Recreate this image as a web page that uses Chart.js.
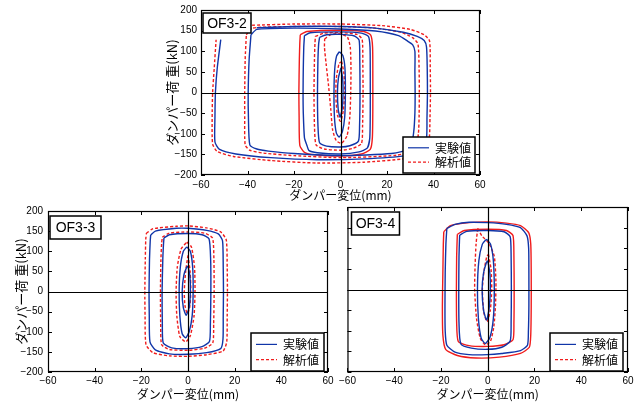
<!DOCTYPE html>
<html>
<head>
<meta charset="utf-8">
<script src="https://cdn.jsdelivr.net/npm/chart.js@4"></script>
<style>
  body { margin: 0; background: #fff; width: 638px; height: 403px; position: relative; overflow: hidden; }
  canvas { position: absolute; }
</style>
</head>
<body>
<canvas id="of32" width="330" height="205" style="left:160px;top:0px"></canvas>
<canvas id="of33" width="340" height="203" style="left:0px;top:200px"></canvas>
<canvas id="of34" width="302" height="203" style="left:336px;top:200px"></canvas>
<script>
// eixos
const xTicks = [-60, -40, -20, 0, 20, 40, 60];
const yTicks = [-200, -150, -100, -50, 0, 50, 100, 150, 200];
const legendLabels = ['実験値', '解析値'];

// OF3-2 experimento (azul)
const of32ExpA = [[-36,157],[-20,160],[0,160],[15,156],[27,146],[33,136],[36,126],[37,110],[37.3,60],[37.4,0],[37.2,-60],[37,-110],[35,-140],[28,-153],[10,-161],[-10,-163],[-30,-158],[-45,-149],[-52,-138],[-54,-120],[-54,-60],[-53.8,0],[-53,60],[-51.5,128]];
const of32ExpB = [[-38.5,140],[-36,153],[-20,156],[0,154],[15,149],[25,138],[29,124],[31,116],[32,100],[32,50],[32.1,0],[32,-50],[31.5,-95],[30,-135],[22,-148],[0,-153],[-20,-148],[-31,-142],[-36,-137],[-39,-127],[-39.6,-60],[-39.7,0],[-39.3,80],[-38.5,140]];
const of32ExpC = [[-15.5,138],[-13,145],[0,147],[9,144],[12,136],[12.7,110],[12.8,40],[12.8,-40],[12.6,-110],[11.5,-135],[8,-144],[0,-149],[-10,-146],[-13.5,-141],[-14.5,-127],[-15.5,-110],[-16,-50],[-16.1,0],[-16,60],[-15.8,110],[-15.5,138]];
const of32ExpD = [[-9,134],[-6,140],[0,141],[6,137],[8,127],[8.3,80],[8.4,0],[8.2,-80],[7.7,-118],[4,-129],[0,-132],[-6,-130],[-9,-122],[-9.7,-80],[-9.9,0],[-9.7,80],[-9.4,118],[-9,134]];
const of32ExpE = [[-0.5,99],[1,90],[1.9,60],[2.1,0],[1.8,-60],[0.8,-95],[-0.6,-108],[-1.8,-98],[-2.6,-60],[-2.8,0],[-2.5,55],[-1.7,88],[-0.5,99]];
const of32ExpF = [[0.2,60],[0.9,35],[1.1,0],[0.7,-40],[-0.2,-60],[-1,-40],[-1.3,0],[-0.9,35],[0.2,60]];
// OF3-2 analise (vermelho)
const of32AnaA = [[-38,163],[-20,166],[0,166],[18,162],[30,153],[36,140],[38.3,125],[38.6,60],[38.7,0],[38.5,-60],[38.2,-110],[36.5,-145],[28,-160],[10,-169],[-10,-171],[-30,-165],[-46,-155],[-53,-143],[-55,-125],[-55.2,-60],[-55,0],[-54.3,60],[-53.5,128]];
const of32AnaB = [[-40.5,140],[-38,156],[-20,160],[0,160],[15,156],[26,146],[31,133],[33.3,118],[33.8,60],[33.9,0],[33.8,-60],[33.5,-100],[32,-138],[24,-152],[0,-158],[-20,-153],[-33,-147],[-39,-140],[-41,-127],[-41.2,-60],[-41.2,0],[-41,80],[-40.5,140]];
const of32AnaC = [[-17.3,140],[-14.5,148],[0,151],[10,148],[13,139],[13.8,110],[13.9,40],[13.9,-40],[13.7,-110],[12.8,-138],[9,-149],[0,-154],[-11,-151],[-15.5,-145],[-17.5,-128],[-17.8,-60],[-17.9,0],[-17.7,80],[-17.5,120],[-17.3,140]];
const of32AnaD = [[-10.8,136],[-7,144],[0,145],[7,141],[9.3,129],[9.6,70],[9.7,0],[9.5,-80],[9,-124],[5,-136],[0,-140],[-7,-137],[-10.5,-127],[-11.2,-80],[-11.4,0],[-11.2,80],[-11,118],[-10.8,136]];
const of32AnaE = [[-6.8,130],[-4,141],[0,142],[3,134],[4.2,110],[4.5,60],[4.4,0],[4,-60],[2.8,-105],[0.5,-123],[-1.8,-117],[-3.4,-90],[-4.2,-40],[-5.2,20],[-6.2,70],[-6.9,110],[-6.8,130]];
const of32AnaF = [[0.5,75],[1.5,45],[1.8,0],[1.2,-45],[0,-70],[-1.3,-55],[-2,-10],[-1.8,35],[-0.6,70],[0.5,75]];

// OF3-3
const of33ExpA = [[-16,140],[-14,150],[-5,157],[0,157],[8,152],[13,143],[14.8,126],[15.1,60],[15.2,0],[15.1,-60],[15,-118],[14,-142],[8,-152],[0,-156],[-8,-155],[-14,-145],[-16.3,-125],[-16.6,-60],[-16.7,0],[-16.5,80],[-16.2,125],[-16,140]];
const of33ExpB = [[-10.3,133],[-8,141],[0,144],[6,141],[9,131],[9.7,80],[9.8,0],[9.6,-80],[9.2,-124],[6,-137],[0,-142],[-7,-140],[-10.6,-128],[-11,-80],[-11.1,0],[-10.8,80],[-10.5,118],[-10.3,133]];
const of33ExpC = [[-0.5,111],[1,100],[2,60],[2.2,0],[1.8,-60],[0.5,-100],[-1,-115],[-2.5,-105],[-3.5,-60],[-3.8,0],[-3.3,60],[-2,100],[-0.5,111]];
const of33ExpD = [[0,63],[0.8,40],[1,0],[0.5,-40],[-0.8,-59],[-2,-40],[-2.5,0],[-1.8,40],[-0.6,60],[0,63]];
const of33AnaA = [[-17.8,145],[-15,156],[-5,162],[0,163],[8,158],[14,148],[16.4,128],[16.8,60],[16.9,0],[16.8,-60],[16.6,-125],[15,-148],[8,-157],[0,-161],[-8,-160],[-15,-152],[-18,-132],[-18.4,-60],[-18.5,0],[-18.3,80],[-18.1,130],[-17.8,145]];
const of33AnaB = [[-11,135],[-8,145],[0,148],[7,145],[10.5,133],[11.1,80],[11.2,0],[11,-80],[10.6,-128],[7,-141],[0,-146],[-8,-144],[-11.3,-132],[-11.7,-80],[-11.8,0],[-11.6,80],[-11.3,120],[-11,135]];
const of33AnaC = [[-0.5,123],[1.5,110],[2.8,60],[3,0],[2.6,-60],[1,-110],[-1,-125],[-3.5,-112],[-4.8,-60],[-5.1,0],[-4.6,60],[-3,105],[-0.5,123]];
const of33AnaD = [[0,90],[0.9,50],[1.2,0],[0.7,-40],[-0.3,-55],[-1.3,-35],[-1.6,0],[-1,50],[0,90]];

// OF3-4
const of34ExpA = [[-17.5,148],[-14,158],[-8,163],[0,162],[8,158],[14,150],[16.8,130],[17.5,100],[17.6,40],[17.6,-40],[17.4,-100],[17,-135],[14,-148],[6,-155],[0,-158],[-8,-158],[-14,-152],[-17.5,-135],[-18.2,-100],[-18.3,-40],[-18.2,40],[-17.9,110],[-17.5,148]];
const of34ExpB = [[-12,132],[-9,141],[0,143],[7,140],[9.6,128],[10,80],[10.1,0],[10,-80],[9.6,-125],[6,-140],[0,-145],[-7,-142],[-11.5,-132],[-12.3,-80],[-12.4,0],[-12.3,80],[-12.1,118],[-12,132]];
const of34ExpC = [[-0.5,122],[1.2,110],[2.4,70],[2.8,0],[2.4,-70],[1,-115],[-1,-131],[-2.8,-118],[-4,-70],[-4.4,0],[-3.8,70],[-2.3,110],[-0.5,122]];
const of34ExpD = [[0,70],[0.9,40],[1.1,0],[0.6,-45],[-0.5,-74],[-1.8,-50],[-2.4,0],[-1.8,40],[-0.6,65],[0,70]];
const of34AnaA = [[-18.8,140],[-16,155],[-8,162],[0,164],[8,161],[14,155],[17.5,138],[18.4,110],[18.6,40],[18.6,-40],[18.4,-110],[17.8,-140],[14,-155],[5,-164],[-5,-166],[-13,-160],[-18,-145],[-19.2,-110],[-19.4,-40],[-19.2,40],[-19,110],[-18.8,140]];
const of34AnaB = [[-13,134],[-10,143],[0,146],[8,143],[10.8,131],[11.2,80],[11.3,0],[11.2,-80],[10.8,-122],[7,-134],[0,-138],[-8,-136],[-12.6,-126],[-13.3,-80],[-13.4,0],[-13.3,80],[-13.1,118],[-13,134]];
const of34AnaC = [[-4.3,148],[-2.5,130],[0.5,112],[2.8,80],[3.5,20],[3.3,-40],[2.6,-90],[1.2,-125],[-1,-134],[-3.2,-118],[-4.8,-70],[-5.6,0],[-5.4,60],[-5,110],[-4.3,148]];
const of34AnaD = [[0.3,85],[1.4,50],[1.7,0],[1.1,-50],[-0.3,-78],[-1.7,-55],[-2.3,0],[-1.6,45],[-0.4,80],[0.3,85]];

const BLUE = '#1035a8';
const RED = '#f01c1c';
const DASH = [3, 2];
const tickFont = { family: '"Liberation Sans Narrow", "Liberation Sans", Arial, sans-serif', size: 10 };
const jpFont = { family: '"Noto Sans CJK JP", sans-serif', size: 12 };
const jpFontY = { family: '"Noto Sans CJK JP", sans-serif', size: 13 };

function loop(points, color, dash) {
    return {
        data: points.map(p => ({ x: p[0], y: p[1] })),
        showLine: true,
        borderColor: color,
        borderWidth: 1.4,
        borderDash: dash,
        pointRadius: 0,
        tension: 0.2,
        fill: false
    };
}

function fmt(v) {
    return v < 0 ? '\u2212' + (-v) : String(v);
}

// moldura, ticks para dentro, eixos zero, caixa do nome e legenda
const panelDecor = {
    id: 'panelDecor',
    afterDatasetsDraw(chart, args, o) {
        const { ctx, chartArea: a, scales: { x, y } } = chart;
        ctx.save();
        ctx.strokeStyle = '#000';
        ctx.lineWidth = 1.2;
        const x0 = Math.round(x.getPixelForValue(0)) + 0.5;
        const y0 = Math.round(y.getPixelForValue(0)) + 0.5;
        ctx.beginPath();
        ctx.moveTo(x0, a.top); ctx.lineTo(x0, a.bottom);
        ctx.moveTo(a.left, y0); ctx.lineTo(a.right, y0);
        ctx.stroke();

        ctx.lineWidth = 1;
        ctx.beginPath();
        xTicks.forEach(v => {
            const px = Math.round(x.getPixelForValue(v)) + 0.5;
            ctx.moveTo(px, a.bottom); ctx.lineTo(px, a.bottom - 4);
            ctx.moveTo(px, a.top); ctx.lineTo(px, a.top + 4);
        });
        yTicks.forEach(v => {
            const py = Math.round(y.getPixelForValue(v)) + 0.5;
            ctx.moveTo(a.left, py); ctx.lineTo(a.left + 4, py);
            ctx.moveTo(a.right, py); ctx.lineTo(a.right - 4, py);
        });
        ctx.stroke();
        ctx.lineWidth = 1.2;
        ctx.strokeRect(a.left + 0.5, a.top + 0.5, a.width - 1, a.height - 1);

        // nome do ensaio
        const nb = o.nameBox;
        const nx = a.left + nb[0], ny = a.top + nb[1];
        ctx.fillStyle = '#fff';
        ctx.fillRect(nx, ny, nb[2], nb[3]);
        ctx.lineWidth = 1.5;
        ctx.strokeRect(nx, ny, nb[2], nb[3]);
        ctx.fillStyle = '#000';
        ctx.font = '14px "Liberation Sans", Arial, sans-serif';
        ctx.textAlign = 'center';
        ctx.textBaseline = 'middle';
        ctx.fillText(o.name, nx + nb[2] / 2, ny + nb[3] / 2 + 1);

        // legenda
        const lb = o.legendBox;
        const lx = a.right - lb[0] - lb[2], ly = a.bottom - lb[1] - lb[3];
        ctx.fillStyle = '#fff';
        ctx.fillRect(lx, ly, lb[2], lb[3]);
        ctx.strokeRect(lx, ly, lb[2], lb[3]);
        const rows = [[BLUE, []], [RED, DASH]];
        ctx.font = '12px "Noto Sans CJK JP", sans-serif';
        ctx.textAlign = 'left';
        rows.forEach((r, i) => {
            const ry = ly + lb[3] * (0.3 + 0.4 * i);
            ctx.strokeStyle = r[0];
            ctx.lineWidth = 1.2;
            ctx.setLineDash(r[1]);
            ctx.beginPath();
            ctx.moveTo(lx + 5, ry); ctx.lineTo(lx + 26, ry);
            ctx.stroke();
            ctx.setLineDash([]);
            ctx.fillStyle = '#000';
            ctx.fillText(legendLabels[i], lx + 32, ry + 0.5);
        });
        ctx.restore();
    }
};

function makePanel(id, p) {
    const datasets = [];
    p.exp.forEach(l => datasets.push(loop(l, BLUE, [])));
    p.anaSolid.forEach(l => datasets.push(loop(l, RED, [])));
    p.anaDash.forEach(l => datasets.push(loop(l, RED, DASH)));
    new Chart(document.getElementById(id).getContext('2d'), {
        type: 'scatter',
        data: { datasets: datasets },
        options: {
            responsive: false,
            animation: false,
            layout: { padding: p.padding },
            plugins: {
                legend: { display: false },
                tooltip: { enabled: false },
                panelDecor: { name: p.name, nameBox: p.nameBox, legendBox: p.legendBox }
            },
            scales: {
                x: {
                    type: 'linear', min: -60, max: 60,
                    afterBuildTicks: s => { s.ticks = xTicks.map(v => ({ value: v })); },
                    afterFit: s => { s.height = p.xHeight; },
                    grid: { display: false, drawTicks: false },
                    border: { display: false },
                    ticks: { font: tickFont, color: '#000', padding: p.xTickPad, maxRotation: 0, autoSkip: false, callback: fmt },
                    title: { display: true, text: 'ダンパー変位(mm)', font: jpFont, color: '#000', padding: { top: 0, bottom: p.xTitlePad } }
                },
                y: {
                    type: 'linear', min: -200, max: 200,
                    afterBuildTicks: s => { s.ticks = yTicks.map(v => ({ value: v })); },
                    afterFit: s => { s.width = p.yWidth; },
                    grid: { display: false, drawTicks: false },
                    border: { display: false },
                    ticks: { display: p.yLabels, font: tickFont, color: '#000', padding: p.yTickPad, callback: fmt },
                    title: { display: p.yLabels, text: 'ダンパー荷 重(kN)', font: jpFontY, color: '#000', padding: { top: p.yTitlePad, bottom: 0 } }
                }
            }
        },
        plugins: [panelDecor]
    });
}

makePanel('of32', {
    name: 'OF3-2',
    exp: [of32ExpA, of32ExpB, of32ExpC, of32ExpD, of32ExpE, of32ExpF],
    anaSolid: [of32AnaC],
    anaDash: [of32AnaA, of32AnaB, of32AnaD, of32AnaE, of32AnaF],
    padding: { top: 10, right: 10, left: 0, bottom: 0 },
    xHeight: 30, yWidth: 41, xTickPad: 4, yTickPad: 4, xTitlePad: 2, yTitlePad: 4, yLabels: true,
    nameBox: [2, 3, 48, 20], legendBox: [5, 2, 72, 36]
});
makePanel('of33', {
    name: 'OF3-3',
    exp: [of33ExpA, of33ExpB, of33ExpC, of33ExpD],
    anaSolid: [],
    anaDash: [of33AnaA, of33AnaB, of33AnaC, of33AnaD],
    padding: { top: 7, right: 12, left: 0, bottom: 0 },
    xHeight: 31, yWidth: 48, xTickPad: 3, yTickPad: 5, xTitlePad: 1, yTitlePad: 13, yLabels: true,
    nameBox: [2, 5, 51, 23], legendBox: [4, 1, 73, 38]
});
makePanel('of34', {
    name: 'OF3-4',
    exp: [of34ExpA, of34ExpB, of34ExpC, of34ExpD],
    anaSolid: [of34AnaA, of34AnaB],
    anaDash: [of34AnaC, of34AnaD],
    padding: { top: 7, right: 10, left: 0, bottom: 0 },
    xHeight: 31, yWidth: 10, xTickPad: 3, yTickPad: 5, xTitlePad: 1, yTitlePad: 0, yLabels: false,
    nameBox: [4, 5, 48, 23], legendBox: [5, 1, 73, 38]
});
</script>
</body>
</html>
